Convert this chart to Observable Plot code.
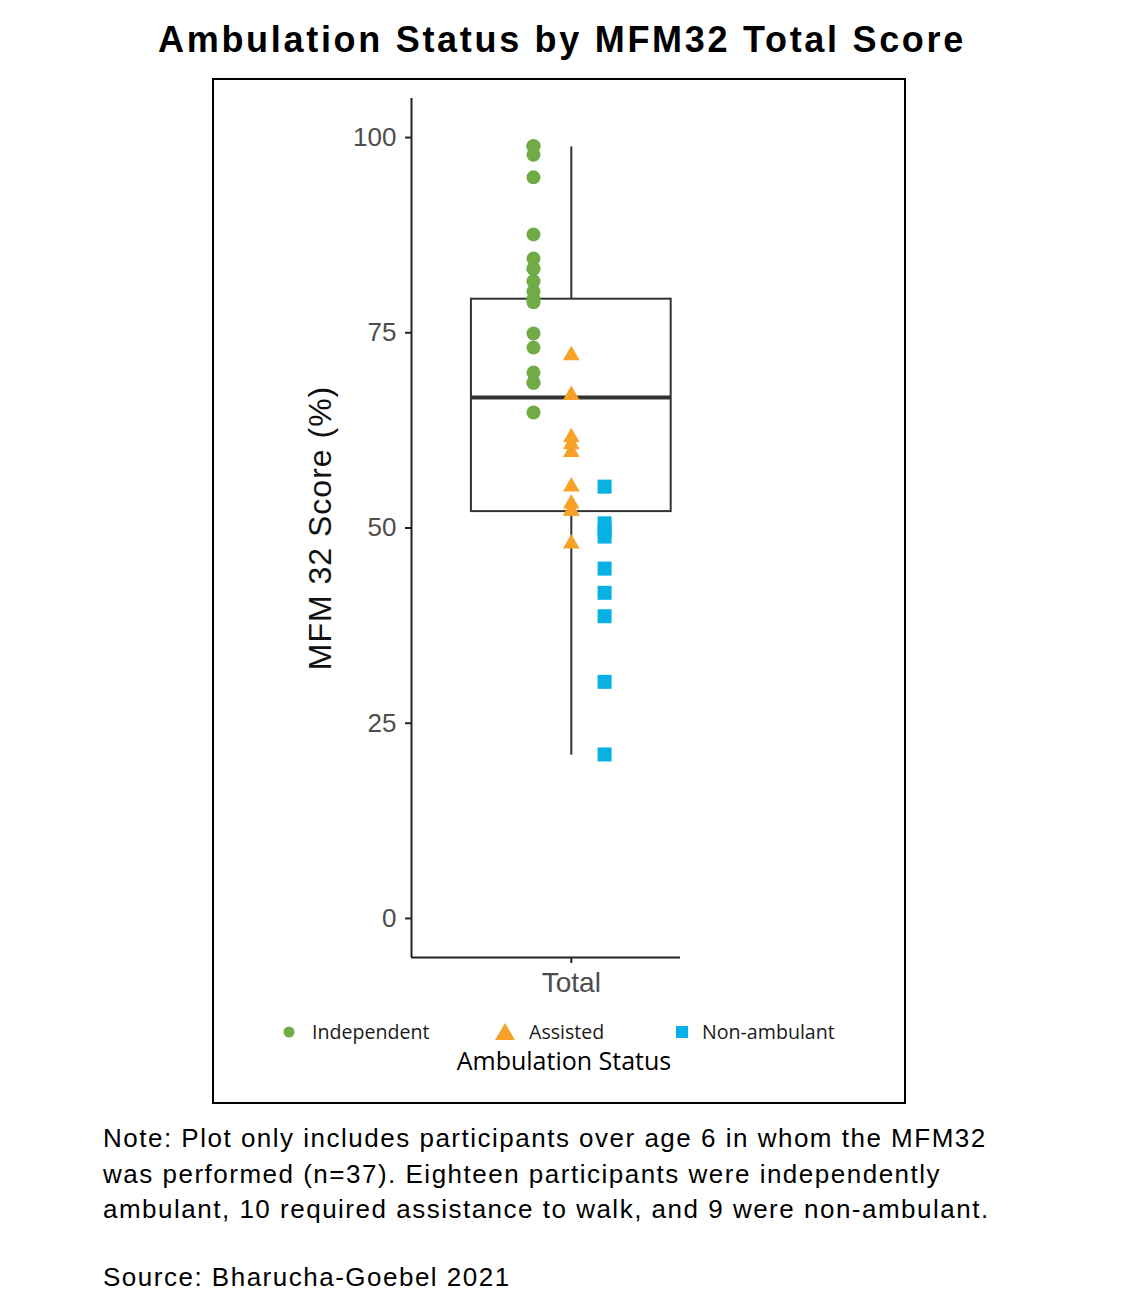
<!DOCTYPE html>
<html>
<head>
<meta charset="utf-8">
<script src="https://cdn.jsdelivr.net/npm/d3@7"></script>
<script src="https://cdn.jsdelivr.net/npm/@observablehq/plot@0.6"></script>
<style>
  html, body { margin: 0; padding: 0; background: #fff; }
  body { width: 1124px; height: 1316px; position: relative; font-family: "Liberation Sans", Arial, sans-serif; }
  #title { position: absolute; left: 0; top: 22px; width: 1124px; text-align: center; font-weight: bold; font-size: 36px; line-height: 36px; letter-spacing: 2.7px; color: #000; }
  #frame { position: absolute; left: 212px; top: 78px; width: 694px; height: 1026px; box-sizing: border-box; border: 2px solid #000; }
  #chart { position: absolute; left: 212px; top: 78px; }
  .leg { position: absolute; font-family: "Open Sans", sans-serif; font-size: 19.6px; line-height: 24px; color: #1a1a1a; white-space: nowrap; }
  .legsym { position: absolute; }
  #legtitle { position: absolute; left: 2px; width: 1124px; text-align: center; font-family: "Open Sans", sans-serif; font-size: 25px; line-height: 30px; color: #000; top: 1045px; }
  #note { position: absolute; left: 103px; top: 1121px; font-size: 26px; line-height: 35.5px; letter-spacing: 1.5px; color: #000; white-space: nowrap; }
  #source { position: absolute; left: 103px; top: 1260px; font-size: 26px; line-height: 35.5px; letter-spacing: 1.5px; color: #000; white-space: nowrap; }
</style>
</head>
<body>
<div id="title">Ambulation Status by MFM32 Total Score</div>
<div id="frame"></div>
<div id="chart"></div>
<div id="legend"></div>
<div id="legtitle">Ambulation Status</div>
<div id="note">Note: Plot only includes participants over age 6 in whom the MFM32<br>was performed (n=37). Eighteen participants were independently<br>ambulant, 10 required assistance to walk, and 9 were non-ambulant.</div>
<div id="source">Source: Bharucha-Goebel 2021</div>
<script>
// ---- data ----
const categories = ["Independent", "Assisted", "Non-ambulant"];
const colors = ["#6fac46", "#f6a229", "#06b1e3"];
const symbols = ["circle", "triangle", "square"];
const dodge = [-0.142, 0, 0.125];

const independent = [98.9, 98.9, 97.8, 94.9, 87.6, 84.5, 83.2, 83.2, 81.6, 80.3, 79.3, 78.9, 74.9, 73.1, 69.9, 68.6, 68.6, 64.8];
const assisted = [72.1, 67.0, 61.6, 60.7, 59.7, 55.3, 53.1, 52.2, 52.2, 48.0];
const nonAmbulant = [55.3, 50.6, 49.7, 48.9, 44.8, 41.7, 38.7, 30.3, 21.0];

// box summary (min whisker, Q1, median, Q3, max whisker)
const boxStats = [20.9, 52.1, 66.7, 79.3, 98.8];
const xCategory = [1];
const xTickLabels = ["Total"];
const yTicks = [0, 25, 50, 75, 100];
const yDomain = [-5, 105];
const xDomain = [0.4, 1.41];
const boxWidth = 0.75;

const series = [independent, assisted, nonAmbulant];
const rows = series.flatMap((vals, i) => vals.map(v => ({status: categories[i], x: xCategory[0] + dodge[i], y: v})));
const box = [{x1: xCategory[0] - boxWidth / 2, x2: xCategory[0] + boxWidth / 2, lo: boxStats[0], q1: boxStats[1], med: boxStats[2], q3: boxStats[3], hi: boxStats[4], x: xCategory[0]}];

const dotR = [7, 6.2, 7.9];

const chart = Plot.plot({
  width: 693,
  height: 930,
  marginTop: 20,
  marginBottom: 51,
  marginLeft: 199,
  marginRight: 225,
  style: {fontFamily: "'Liberation Sans', Arial, sans-serif", background: "transparent", overflow: "visible"},
  x: {type: "linear", domain: xDomain},
  y: {domain: yDomain},
  marks: [
    // whiskers
    Plot.ruleX(box, {x: "x", y1: "lo", y2: "q1", stroke: "#333", strokeWidth: 2}),
    Plot.ruleX(box, {x: "x", y1: "q3", y2: "hi", stroke: "#333", strokeWidth: 2}),
    // box
    Plot.rect(box, {x1: "x1", x2: "x2", y1: "q1", y2: "q3", fill: "none", stroke: "#333", strokeWidth: 2}),
    Plot.ruleY(box, {y: "med", x1: "x1", x2: "x2", stroke: "#333", strokeWidth: 4}),
    // axis lines
    Plot.ruleX([xDomain[0]], {stroke: "#222", strokeWidth: 2}),
    Plot.ruleY([yDomain[0]], {stroke: "#222", strokeWidth: 2}),
    // points
    ...categories.map((c, i) => Plot.dot(rows.filter(d => d.status === c), {
      x: "x", y: "y", symbol: () => symbols[i], r: dotR[i], fill: colors[i], stroke: "none"
    })),
    Plot.axisY({ticks: yTicks, tickSize: 6, tickPadding: 9, fontSize: 26, fill: "#4d4d4d", stroke: "#222", strokeWidth: 2, label: null}),
    Plot.axisX({ticks: xCategory, tickFormat: (d, i) => xTickLabels[i], tickSize: 6, tickPadding: 9, fontSize: 28, fill: "#4d4d4d", stroke: "#222", strokeWidth: 2, label: null}),
    Plot.text(["MFM 32 Score (%)"], {frameAnchor: "left", textAnchor: "middle", lineAnchor: "middle", rotate: -90, dx: -91, fontSize: 32, fill: "#111", style: "letter-spacing: 1px"})
  ]
});
document.getElementById("chart").appendChild(chart);
chart.querySelectorAll("text").forEach(t => { if (t.textContent === "MFM 32 Score (%)") t.setAttribute("letter-spacing", "1"); });

// ---- legend ----
const legend = document.getElementById("legend");
const legPos = [{sx: 289, tx: 312}, {sx: 505, tx: 529}, {sx: 682, tx: 702}];
const legCy = 1032;
const ns = "http://www.w3.org/2000/svg";
categories.forEach((c, i) => {
  const s = document.createElementNS(ns, "svg");
  s.setAttribute("width", 24); s.setAttribute("height", 24);
  s.setAttribute("class", "legsym");
  s.style.left = (legPos[i].sx - 12) + "px";
  s.style.top = (legCy - 12) + "px";
  let shape;
  if (symbols[i] === "circle") {
    shape = document.createElementNS(ns, "circle");
    shape.setAttribute("cx", 12); shape.setAttribute("cy", 12); shape.setAttribute("r", 5.5);
  } else if (symbols[i] === "triangle") {
    shape = document.createElementNS(ns, "path");
    shape.setAttribute("d", "M12,3 L22,20 L2,20 Z");
  } else {
    shape = document.createElementNS(ns, "rect");
    shape.setAttribute("x", 6); shape.setAttribute("y", 6); shape.setAttribute("width", 12); shape.setAttribute("height", 12);
  }
  shape.setAttribute("fill", colors[i]);
  s.appendChild(shape);
  legend.appendChild(s);
  const t = document.createElement("div");
  t.className = "leg";
  t.textContent = c;
  t.style.left = legPos[i].tx + "px";
  t.style.top = (legCy - 12) + "px";
  legend.appendChild(t);
});
</script>
</body>
</html>
